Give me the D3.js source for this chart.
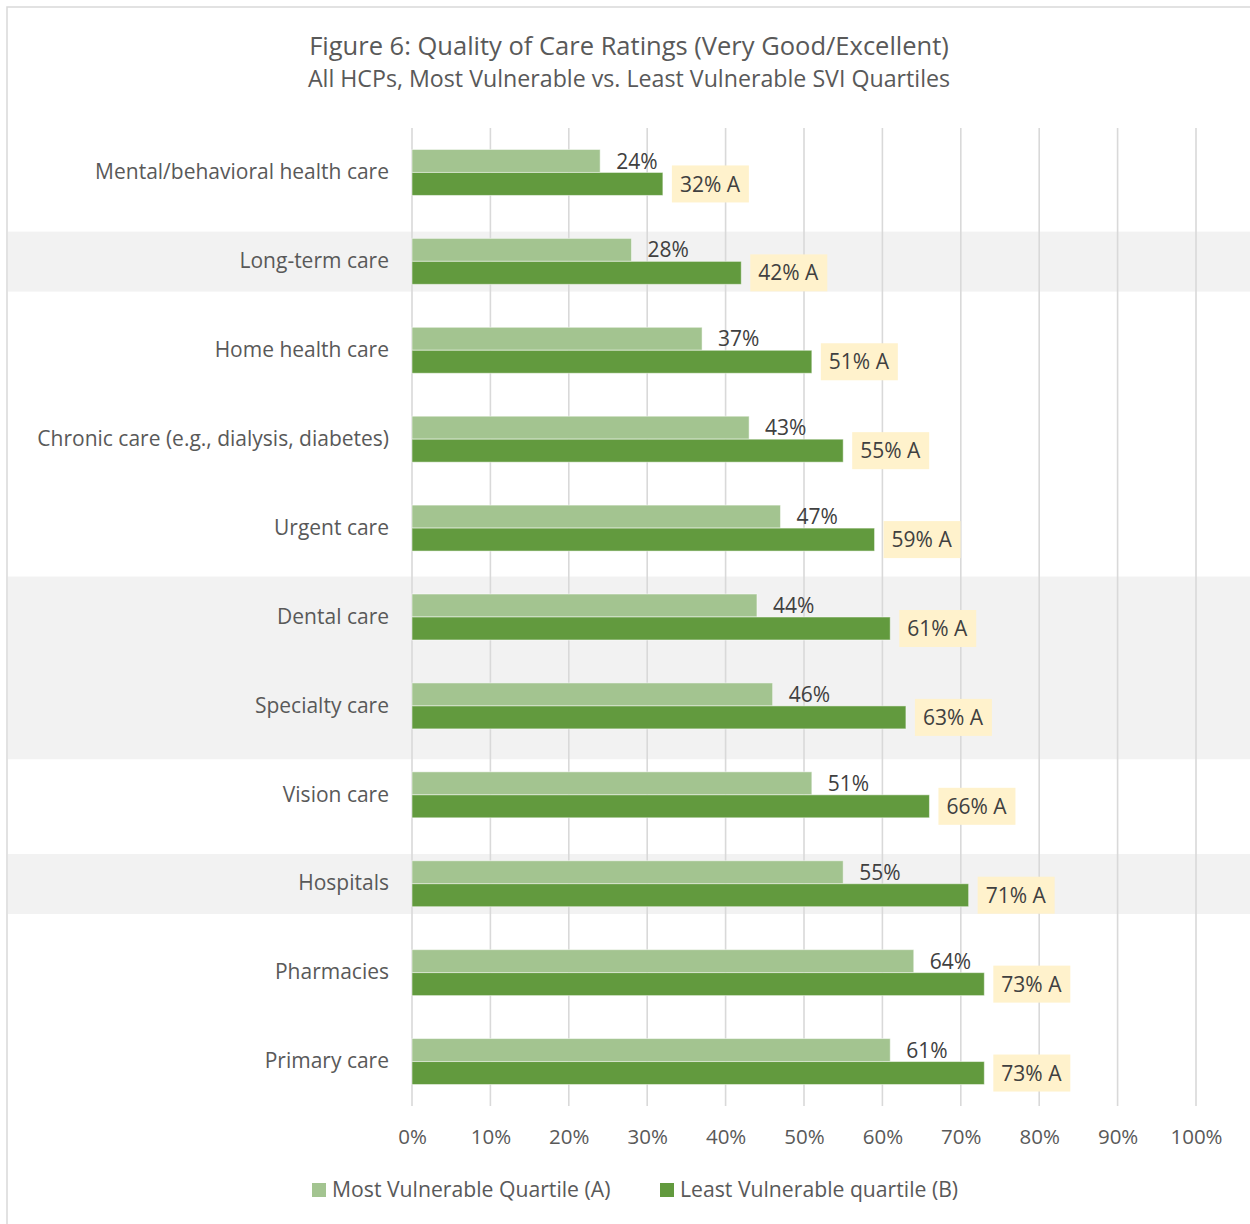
<!DOCTYPE html>
<html>
<head>
<meta charset="utf-8">
<script src="https://cdn.jsdelivr.net/npm/d3@7"></script>
<style>
	body { margin: 0; background: #fff; }
	svg text { font-family: "Open Sans", "Noto Sans", sans-serif; }
</style>
</head>
<body>
<div id="chart"></div>
<script>
(function() {
	var width = 1250,
		height = 1224;

	// categories top to bottom
	var categories = ["Mental/behavioral health care", "Long-term care", "Home health care",
		"Chronic care (e.g., dialysis, diabetes)", "Urgent care", "Dental care", "Specialty care",
		"Vision care", "Hospitals", "Pharmacies", "Primary care"];

	// Most Vulnerable Quartile (A)
	var mostVulnerable = [24, 28, 37, 43, 47, 44, 46, 51, 55, 64, 61];
	// Least Vulnerable quartile (B)
	var leastVulnerable = [32, 42, 51, 55, 59, 61, 63, 66, 71, 73, 73];
	// significance letters shown after B values
	var sigLetters = ["A", "A", "A", "A", "A", "A", "A", "A", "A", "A", "A"];

	var seriesNames = ["Most Vulnerable Quartile (A)", "Least Vulnerable quartile (B)"];
	var xTicks = [0, 10, 20, 30, 40, 50, 60, 70, 80, 90, 100];

	// rows with grey background (first, last category)
	var shadedRows = [["Long-term care", "Long-term care"], ["Dental care", "Specialty care"], ["Hospitals", "Hospitals"]];

	var colors = ["#a3c490", "#629a3e"];

	var margin = {top: 128, left: 412, right: 54, bottom: 118};
	var plotW = width - margin.left - margin.right,
		plotH = height - margin.top - margin.bottom;

	var svg = d3.select("#chart")
		.append("svg")
		.attr("width", width)
		.attr("height", height);

	// outer border
	svg.append("rect")
		.attr("x", 7).attr("y", 7)
		.attr("width", width + 20).attr("height", height + 20)
		.attr("fill", "none")
		.attr("stroke", "#d9d9d9")
		.attr("stroke-width", 1.5);

	var x = d3.scaleLinear().domain([0, 100]).range([margin.left, margin.left + plotW]);
	var y = d3.scaleBand().domain(categories)
		.range([margin.top, margin.top + plotH])
		.paddingInner(0.483).paddingOuter(0.2415);
	var ySub = d3.scaleBand().domain([0, 1]).range([0, y.bandwidth()]);
	var step = y.step();

	function shadeTop(d) { return y(d[0]) + y.bandwidth() / 2 - (d[0] == d[1] ? 0.335 : 0.455) * step; }
	function shadeBot(d) { return y(d[1]) + y.bandwidth() / 2 + (d[0] == d[1] ? 0.34 : 0.6) * step; }

	// grey row highlights
	svg.selectAll(".shade")
		.data(shadedRows)
		.enter().append("rect")
		.attr("class", "shade")
		.attr("x", 8)
		.attr("width", width)
		.attr("y", shadeTop)
		.attr("height", function(d) { return shadeBot(d) - shadeTop(d); })
		.attr("fill", "#f2f2f2");

	// vertical gridlines
	svg.selectAll(".grid")
		.data(xTicks)
		.enter().append("line")
		.attr("class", "grid")
		.attr("x1", function(d) { return x(d); })
		.attr("x2", function(d) { return x(d); })
		.attr("y1", margin.top)
		.attr("y2", margin.top + plotH)
		.attr("stroke", "#d9d9d9")
		.attr("stroke-width", 1.6);

	// x axis labels
	var xAxis = d3.axisBottom(x).tickValues(xTicks).tickSize(0).tickPadding(0)
		.tickFormat(function(d) { return d + "%"; });
	var gx = svg.append("g")
		.attr("transform", "translate(0," + (margin.top + plotH) + ")")
		.call(xAxis);
	gx.select(".domain").remove();
	gx.selectAll("text")
		.attr("y", 38)
		.attr("dy", 0)
		.style("font-size", "20.5px")
		.style("fill", "#595959");

	// category labels
	var yAxis = d3.axisLeft(y).tickSize(0).tickPadding(23);
	var gy = svg.append("g")
		.attr("transform", "translate(" + margin.left + ",0)")
		.call(yAxis);
	gy.select(".domain").remove();
	gy.selectAll("text")
		.style("font-size", "21px")
		.style("fill", "#595959");

	var rows = categories.map(function(c, i) {
		return {cat: c, a: mostVulnerable[i], b: leastVulnerable[i], sig: sigLetters[i]};
	});

	var row = svg.selectAll(".row")
		.data(rows)
		.enter().append("g")
		.attr("class", "row")
		.attr("transform", function(d) { return "translate(0," + y(d.cat) + ")"; });

	// bars: light (A) above dark (B)
	row.append("rect")
		.attr("x", x(0))
		.attr("y", ySub(0))
		.attr("height", ySub.bandwidth())
		.attr("width", function(d) { return x(d.a) - x(0); })
		.attr("fill", colors[0])
		.attr("stroke", "#ffffff")
		.attr("stroke-opacity", 0.5)
		.attr("stroke-width", 1);

	row.append("rect")
		.attr("x", x(0))
		.attr("y", ySub(1))
		.attr("height", ySub.bandwidth())
		.attr("width", function(d) { return x(d.b) - x(0); })
		.attr("fill", colors[1])
		.attr("stroke", "#ffffff")
		.attr("stroke-opacity", 0.5)
		.attr("stroke-width", 1);

	// A value labels
	row.append("text")
		.attr("x", function(d) { return x(d.a) + 16; })
		.attr("y", ySub(0) + ySub.bandwidth() / 2)
		.attr("dy", "0.36em")
		.style("font-size", "21px")
		.style("fill", "#404040")
		.text(function(d) { return d.a + "%"; });

	// B value labels in yellow boxes
	var bLab = row.append("g")
		.attr("transform", function(d) {
			return "translate(" + (x(d.b) + 9) + "," + (ySub(1) + ySub.bandwidth() / 2) + ")";
		});
	bLab.append("rect")
		.attr("x", 0)
		.attr("y", -18.5)
		.attr("height", 37)
		.attr("width", 77)
		.attr("fill", "#fff2cc");
	bLab.append("text")
		.attr("x", 8)
		.attr("dy", "0.36em")
		.style("font-size", "21px")
		.style("fill", "#404040")
		.text(function(d) { return d.b + "% " + d.sig; });

	// titles
	svg.append("text")
		.attr("x", 629).attr("y", 55)
		.attr("text-anchor", "middle")
		.style("font-size", "25.5px")
		.style("fill", "#595959")
		.text("Figure 6: Quality of Care Ratings (Very Good/Excellent)");
	svg.append("text")
		.attr("x", 629).attr("y", 87)
		.attr("text-anchor", "middle")
		.style("font-size", "23.2px")
		.style("fill", "#595959")
		.text("All HCPs, Most Vulnerable vs. Least Vulnerable SVI Quartiles");

	// legend
	var legendX = [312, 660];
	var leg = svg.selectAll(".legend")
		.data(seriesNames)
		.enter().append("g")
		.attr("class", "legend")
		.attr("transform", function(d, i) { return "translate(" + legendX[i] + ",1183)"; });
	leg.append("rect")
		.attr("width", 14).attr("height", 14)
		.attr("fill", function(d, i) { return colors[i]; });
	leg.append("text")
		.attr("x", 20).attr("y", 14)
		.style("font-size", "21.2px")
		.style("fill", "#595959")
		.text(function(d) { return d; });
})();
</script>
</body>
</html>
